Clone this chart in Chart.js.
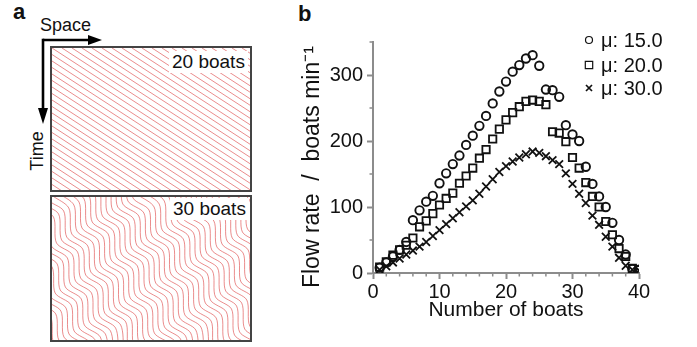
<!DOCTYPE html>
<html>
<head>
<meta charset="utf-8">
<script src="https://cdn.jsdelivr.net/npm/chart.js@4.4.1/dist/chart.umd.min.js"></script>
<style>
  html, body { margin: 0; padding: 0; background: #fff; }
  body { width: 697px; height: 347px; position: relative; overflow: hidden;
         font-family: "Liberation Sans", Arial, sans-serif; color: #111; }
  .abs { position: absolute; }
  .box { position: absolute; border: 2px solid #444; box-sizing: border-box; background: #fff; }
  .box canvas { display: block; }
  .tag { position: absolute; background: #fff; font-size: 19px; line-height: 22px; padding: 0 3px; }
  .panel { position: absolute; font-weight: bold; font-size: 22px; line-height: 24px; }
</style>
</head>
<body>
<div class="panel" style="left:13px;top:0">a</div>
<div class="panel" style="left:298px;top:2px">b</div>
<div class="abs" style="left:40px;top:15px;font-size:18px;line-height:20px">Space</div>
<div class="abs" style="left:17px;top:141px;width:40px;height:20px;font-size:18px;line-height:20px;text-align:center;transform:rotate(-90deg)">Time</div>
<svg class="abs" style="left:0;top:0" width="120" height="130">
  <path d="M43 40 H91" stroke="#000" stroke-width="2.6" fill="none"/>
  <path d="M43 38.7 V111" stroke="#000" stroke-width="2.6" fill="none"/>
  <polygon points="88,35 102,40 88,45" fill="#000"/>
  <polygon points="38,108 43,124 48,108" fill="#000"/>
</svg>

<div class="box" style="left:50px;top:46px;width:202px;height:146px"><canvas id="road20" width="198" height="142"></canvas></div>
<div class="box" style="left:50px;top:195px;width:202px;height:147px"><canvas id="road30" width="198" height="143"></canvas></div>
<div class="tag" style="left:169px;top:51px">20 boats</div>
<div class="tag" style="left:170px;top:198px">30 boats</div>

<canvas id="flow" class="abs" style="left:280px;top:0" width="417" height="347"></canvas>

<script>
// panel b: flow rate vs number of boats
const boatCounts = [1, 2, 3, 4, 5, 6, 7, 8, 9, 10, 11, 12, 13, 14, 15, 16, 17, 18, 19, 20,
                    21, 22, 23, 24, 25, 26, 27, 28, 29, 30, 31, 32, 33, 34, 35, 36, 37, 38, 39, 40];
const flowMu15 = [8, 16, 25, 35, 47, 80, 95, 108, 117, 136, 151, 165, 178, 194, 208, 223, 238, 257, 275, 290,
                  305, 315, 325, 330, 314, 278, 277, 267, 224, 210, 200, 161, 135, 116, 100, 76, 50, 28, 6, 5];
const flowMu20 = [9, 17, 27, 35, 42, 53, 70, 79, 90, 103, 113, 121, 136, 147, 159, 174, 187, 203, 218, 232,
                  243, 252, 260, 262, 260, 255, 214, 212, 199, 175, 159, 137, 116, 100, 78, 58, 37, 25, 7, 5];
const flowMu30 = [5, 10, 16, 22, 28, 34, 40, 47, 56, 65, 74, 83, 92, 101, 110, 120, 131, 142, 153, 162,
                  169, 175, 180, 184, 182, 177, 171, 165, 151, 135, 120, 106, 87, 73, 55, 40, 23, 11, 5, 4];
const seriesNames = ['μ: 15.0', 'μ: 20.0', 'μ: 30.0'];

// panel a: space-time trajectories (space 0..198, time 0..143, box units)
const boats20PathX = [0, 220];
const boats20PathT = [0, 143];
const boats20Start = [-220, -210, -200, -190, -180, -170, -160, -150, -140, -130, -120, -110, -100, -90,
                      -80, -70, -60, -50, -40, -30, -20, -10, 0, 10, 20, 30, 40, 50, 60, 70, 80, 90,
                      100, 110, 120, 130, 140, 150, 160, 170, 180, 190];

const boats30PathX = [0, 16, 19, 35, 38, 54, 57, 73, 76, 92, 95];
const boats30PathT = [0, 12, 38, 50, 76, 88, 114, 126, 152, 164, 190];
const boats30Start = [-74.3, -69.2, -64.1, -59.0, -53.9, -48.8, -43.7, -38.6, -33.5, -28.4, -23.3,
                      0.8, 5.9, 11.0, 16.1, 21.2, 26.3, 31.4, 36.5, 41.6, 46.7, 51.8, 56.9, 62.0,
                      86.1, 91.2, 96.3, 101.4, 106.5, 111.6, 116.7, 121.8, 126.9, 132.0, 137.1, 142.2,
                      166.3, 171.4, 176.5, 181.6];
const boats30Delay = [6, 9, 12, 15, 18, 21, 24, 27, 30, 33, 36,
                      1, 4, 7, 10, 13, 16, 19, 22, 25, 28, 31, 34, 37,
                      2, 5, 8, 11, 14, 17, 20, 23, 26, 29, 32, 35,
                      0, 3, 6, 9];

Chart.defaults.font.family = '"Liberation Sans", Arial, sans-serif';
const laneRed = 'rgba(222,78,78,0.72)';
const axisGray = '#8c8c8c';
const ink = '#111';

function roadChart(id, pathX, pathT, starts, delays, maxT, tension) {
  const datasets = starts.map((s, i) => ({
    data: pathX.map((px, k) => ({x: px + s, y: pathT[k] - (delays ? delays[i] : 0)})),
    borderColor: laneRed,
    borderWidth: 0.9,
    pointRadius: 0,
    tension: tension,
    fill: false
  }));
  new Chart(document.getElementById(id), {
    type: 'line',
    data: {datasets: datasets},
    options: {
      responsive: false,
      animation: false,
      events: [],
      layout: {padding: 0},
      plugins: {legend: {display: false}, tooltip: {enabled: false}},
      scales: {
        x: {type: 'linear', display: false, min: 0, max: 198},
        y: {type: 'linear', display: false, min: 0, max: maxT, reverse: true}
      }
    }
  });
}

roadChart('road20', boats20PathX, boats20PathT, boats20Start, null, 142, 0);
roadChart('road30', boats30PathX, boats30PathT, boats30Start, boats30Delay, 143, 0.3);

// short minor ticks outside the axes
const minorTicks = {
  id: 'minorTicks',
  afterDraw(chart) {
    const {ctx, scales: {x, y}} = chart;
    ctx.save();
    ctx.strokeStyle = axisGray;
    ctx.lineWidth = 1.5;
    ctx.beginPath();
    x.ticks.forEach(t => {
      if (t.value % 10 !== 0) {
        const px = x.getPixelForValue(t.value);
        ctx.moveTo(px, x.top);
        ctx.lineTo(px, x.top + 3.5);
      }
    });
    y.ticks.forEach(t => {
      if (t.value % 100 !== 0) {
        const py = y.getPixelForValue(t.value);
        ctx.moveTo(y.right, py);
        ctx.lineTo(y.right - 3.5, py);
      }
    });
    ctx.stroke();
    ctx.restore();
  }
};

// legend in the top right corner
const seriesKey = {
  id: 'seriesKey',
  afterDraw(chart) {
    const ctx = chart.ctx;
    const rows = [40, 65, 88];
    ctx.save();
    ctx.strokeStyle = ink;
    ctx.fillStyle = ink;
    chart.data.datasets.forEach((ds, i) => {
      const cx = 309, cy = rows[i];
      ctx.beginPath();
      if (ds.pointStyle === 'circle') {
        ctx.lineWidth = 1.2;
        ctx.arc(cx, cy, 3.5, 0, Math.PI * 2);
      } else if (ds.pointStyle === 'rect') {
        ctx.lineWidth = 1.2;
        ctx.rect(cx - 3.7, cy - 3.7, 7.4, 7.4);
      } else {
        ctx.lineWidth = 1.7;
        ctx.moveTo(cx - 3, cy - 3); ctx.lineTo(cx + 3, cy + 3);
        ctx.moveTo(cx - 3, cy + 3); ctx.lineTo(cx + 3, cy - 3);
      }
      ctx.stroke();
      ctx.font = '20px "Liberation Sans", Arial, sans-serif';
      ctx.textBaseline = 'middle';
      ctx.textAlign = 'left';
      ctx.fillText(ds.label, 321, cy + 1);
    });
    ctx.restore();
  }
};

function seriesPoints(values) {
  return boatCounts.map((n, i) => ({x: n, y: values[i]}));
}

new Chart(document.getElementById('flow'), {
  type: 'scatter',
  data: {
    datasets: [
      {label: seriesNames[0], data: seriesPoints(flowMu15), pointStyle: 'circle', pointRadius: 4.2,
       borderWidth: 1.9, borderColor: ink, backgroundColor: 'rgba(0,0,0,0)'},
      {label: seriesNames[1], data: seriesPoints(flowMu20), pointStyle: 'rect', pointRadius: 5.2,
       borderWidth: 1.8, borderColor: ink, backgroundColor: 'rgba(0,0,0,0)'},
      {label: seriesNames[2], data: seriesPoints(flowMu30), pointStyle: 'crossRot', pointRadius: 5.4,
       borderWidth: 1.8, borderColor: ink, backgroundColor: 'rgba(0,0,0,0)'}
    ]
  },
  options: {
    responsive: false,
    animation: false,
    events: [],
    layout: {padding: {top: 42, right: 58, left: 0, bottom: 0}},
    plugins: {legend: {display: false}, tooltip: {enabled: false}},
    scales: {
      x: {
        type: 'linear', min: 0, max: 40,
        afterFit: s => { s.height = 74; },
        border: {color: axisGray, width: 2},
        grid: {drawOnChartArea: false, drawTicks: true, tickLength: 6, tickWidth: 2,
               tickColor: c => (c.tick && c.tick.value % 10 === 0) ? axisGray : 'rgba(0,0,0,0)'},
        ticks: {stepSize: 2, autoSkip: false, maxRotation: 0, padding: 1, color: ink,
                font: {size: 20}, callback: v => (v % 10 === 0 ? v : '')},
        title: {display: true, text: 'Number of boats', color: ink, font: {size: 21},
                padding: {top: 0, bottom: 24}}
      },
      y: {
        type: 'linear', min: 0, max: 350,
        afterFit: s => { s.width = 93; },
        border: {color: axisGray, width: 2},
        grid: {drawOnChartArea: false, drawTicks: true, tickLength: 6, tickWidth: 2,
               tickColor: c => (c.tick && c.tick.value % 100 === 0) ? axisGray : 'rgba(0,0,0,0)'},
        ticks: {stepSize: 50, autoSkip: false, padding: 4, color: ink,
                font: {size: 20}, callback: v => (v % 100 === 0 ? v : '')},
        title: {display: true, text: 'Flow rate  /  boats min⁻¹   ', color: ink, font: {size: 23},
                padding: {top: 19, bottom: 0}}
      }
    }
  },
  plugins: [minorTicks, seriesKey]
});
</script>
</body>
</html>
